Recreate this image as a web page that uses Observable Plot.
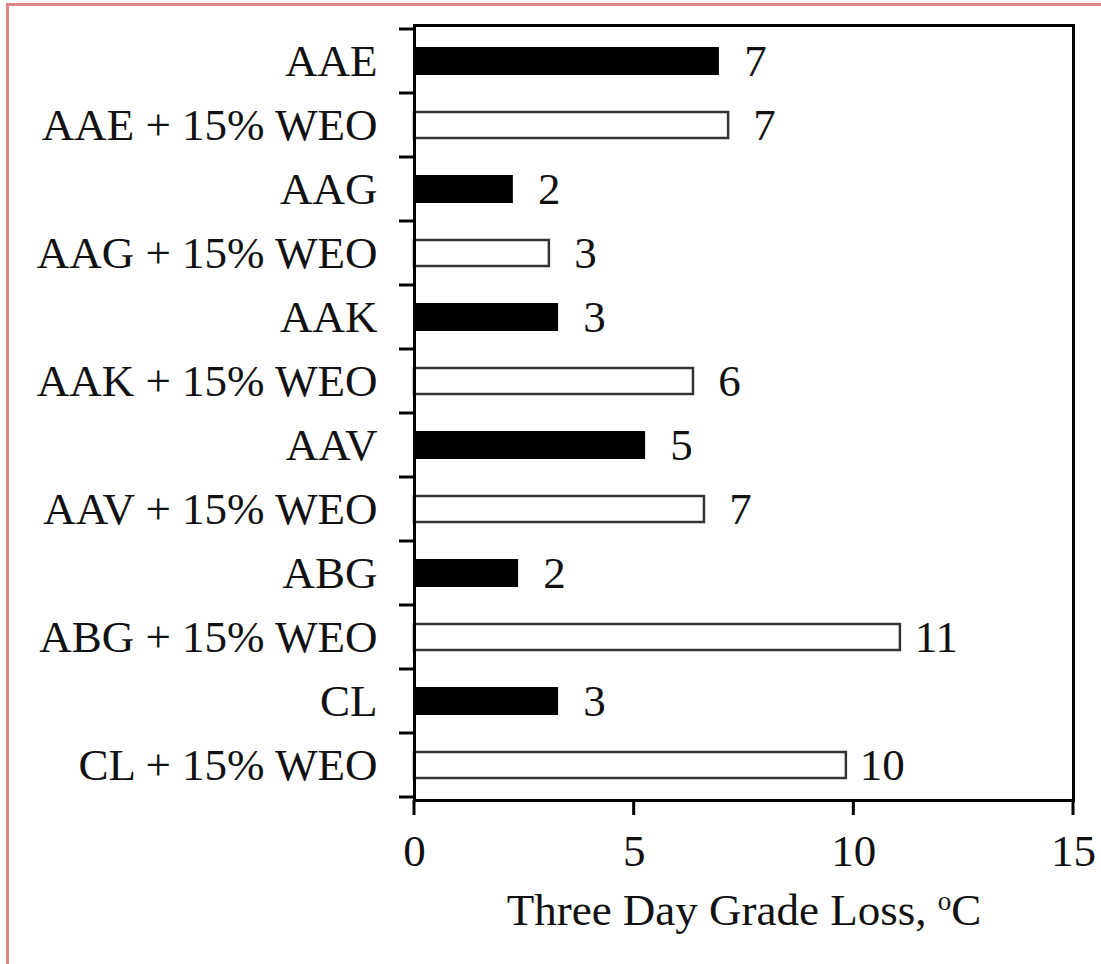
<!DOCTYPE html>
<html><head><meta charset="utf-8">
<script src="https://cdn.jsdelivr.net/npm/d3@7"></script>
<script src="https://cdn.jsdelivr.net/npm/@observablehq/plot@0.6"></script>
<style>
html,body{margin:0;padding:0;background:#fff;}
#wrap{position:relative;width:1101px;height:964px;overflow:hidden;}
#wrap svg{position:absolute;left:0;top:0;}
#edge{position:absolute;left:6px;top:3px;right:0;bottom:0;border-top:3px solid #e08585;border-left:3px solid #e08585;pointer-events:none;z-index:2;}
</style></head><body><div id="wrap"><div id="edge"></div></div>
<script>
const categories = ["AAE", "AAE + 15% WEO", "AAG", "AAG + 15% WEO", "AAK", "AAK + 15% WEO",
  "AAV", "AAV + 15% WEO", "ABG", "ABG + 15% WEO", "CL", "CL + 15% WEO"];
const values = [6.94, 7.15, 2.25, 3.07, 3.28, 6.35, 5.26, 6.60, 2.37, 11.06, 3.28, 9.83];
const valueLabels = ["7", "7", "2", "3", "3", "6", "5", "7", "2", "11", "3", "10"];
const blends = ["base", "WEO", "base", "WEO", "base", "WEO", "base", "WEO", "base", "WEO", "base", "WEO"];
const xTicks = [0, 5, 10, 15];
const axisTitle = "Three Day Grade Loss, oC";

const data = categories.map((name, i) => ({name, value: values[i], label: valueLabels[i], blend: blends[i]}));

const font = "'Liberation Serif', 'Times New Roman', serif";
const ink = "#111";
const fs = 45;

function yBoundaryTicks(index, scales, vals, dims) {
  const y = scales.y, x = scales.x;
  const g = d3.create("svg:g").attr("stroke", "#000").attr("stroke-width", 3);
  const x0 = x(0);
  const bounds = categories.map(c => y(c));
  bounds.push(y(categories[categories.length - 1]) + y.step());
  for (const b of bounds) {
    g.append("line").attr("x1", x0 - 15).attr("x2", x0).attr("y1", b).attr("y2", b);
  }
  return g.node();
}
function xAxisTicks(index, scales, vals, dims) {
  const x = scales.x;
  const yb = dims.height - dims.marginBottom;
  const g = d3.create("svg:g").attr("stroke", "#000").attr("stroke-width", 3);
  for (const t of xTicks) {
    g.append("line").attr("x1", x(t)).attr("x2", x(t)).attr("y1", yb).attr("y2", yb + 15);
  }
  return g.node();
}

const chart = Plot.plot({
  width: 1101,
  height: 964,
  marginLeft: 414,
  marginRight: 28,
  marginTop: 25,
  marginBottom: 164,
  style: {fontFamily: font, fontSize: fs + "px", color: ink, background: "transparent"},
  x: {domain: [0, 15], axis: null},
  y: {domain: categories, padding: 0, axis: null},
  marks: [
    Plot.barX(data.filter(d => d.blend === "base"), {x: "value", y: "name", fill: "#000", insetTop: 18, insetBottom: 18}),
    Plot.barX(data.filter(d => d.blend === "WEO"), {x: "value", y: "name", fill: "#fff", stroke: "#333", strokeWidth: 2.5, insetTop: 19, insetBottom: 19}),
    Plot.text(data, {x: "value", y: "name", text: "label", dx: 36, textAnchor: "middle", fill: ink, fontSize: fs}),
    Plot.text(categories, {y: d => d, text: d => d, frameAnchor: "left", dx: -37, textAnchor: "end", fill: ink, fontSize: fs}),
    Plot.text(xTicks, {x: d => d, text: d => String(d), frameAnchor: "bottom", dy: 65, fill: ink, fontSize: fs}),
    Plot.text([axisTitle], {text: d => d, frameAnchor: "bottom", dy: 124, fill: ink, fontSize: fs}),
    Plot.frame({stroke: "#000", strokeWidth: 3}),
    yBoundaryTicks,
    xAxisTicks
  ]
});
document.getElementById("wrap").appendChild(chart);

// raise the "o" of the degree unit as a superscript
d3.select(chart).selectAll("text").each(function() {
  if (this.textContent === axisTitle) {
    const t = d3.select(this);
    t.text(null);
    t.append("tspan").text("Three Day Grade Loss, ");
    t.append("tspan").attr("font-size", "60%").attr("dy", "-15px").text("o");
    t.append("tspan").attr("dy", "15px").text("C");
  }
});
</script></body></html>
